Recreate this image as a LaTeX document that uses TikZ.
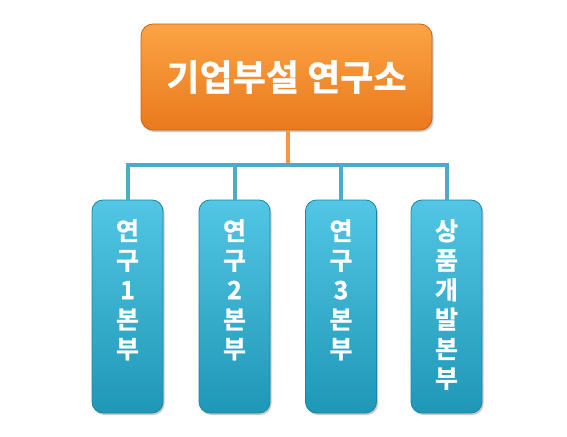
\documentclass[tikz,border=0pt]{standalone}
\usepackage{fontspec}
\newfontfamily\kr{Noto Sans CJK KR Bold}[FakeBold=1.2]
\usetikzlibrary{shadows}
\definecolor{orTop}{HTML}{FBA445}
\definecolor{orBot}{HTML}{E9791C}
\definecolor{orEdge}{HTML}{C8641A}
\definecolor{blTop}{HTML}{52C6E4}
\definecolor{blBot}{HTML}{1F97B6}
\definecolor{blEdge}{HTML}{1A86A3}
\definecolor{blLine}{HTML}{4BACC6}
\definecolor{orLine}{HTML}{F79646}
\tikzset{
  topbox/.style={rounded corners=12pt, top color=orTop, bottom color=orBot, draw=orEdge, line width=0.8pt,
    minimum width=291pt, minimum height=106pt, inner sep=0pt,
    drop shadow={shadow xshift=1.5pt, shadow yshift=-2pt, opacity=0.35, fill=black!60},
    text=white, font=\kr\fontsize{36}{40}\selectfont},
  subbox/.style={rounded corners=11pt, top color=blTop, bottom color=blBot, draw=blEdge, line width=0.8pt,
    minimum width=71pt, minimum height=213pt, inner sep=0pt,
    drop shadow={shadow xshift=1.5pt, shadow yshift=-2pt, opacity=0.35, fill=black!60}},
  lbl/.style={text=white, align=center, inner sep=0pt, font=\kr\fontsize{25}{29.5}\selectfont},
  bline/.style={draw=blLine, line width=4pt},
  oline/.style={draw=orLine, line width=4pt}
}
\begin{document}
\begin{tikzpicture}[x=1pt,y=-1pt]
\useasboundingbox (0,0) rectangle (567,436);
\node[topbox] (top) at (286.5,77) {기업부설 연구소};
\node[subbox] (b1) at (127.5,306.5) {};
\node[subbox] (b2) at (234.5,306.5) {};
\node[subbox] (b3) at (341,306.5) {};
\node[subbox] (b4) at (446.5,306.5) {};
\node[lbl, anchor=north] (t1) at (b1.center |- 0,219) {연\\구\\1\\본\\부};
\node[lbl, anchor=north] (t2) at (b2.center |- 0,219) {연\\구\\2\\본\\부};
\node[lbl, anchor=north] (t3) at (b3.center |- 0,219) {연\\구\\3\\본\\부};
\node[lbl, anchor=north] (t4) at (b4.center |- 0,219) {상\\품\\개\\발\\본\\부};
\coordinate (bar) at (288,165);
\draw[oline] (top.south -| bar) -- (bar);
\draw[bline] (b1.north) -- (b1.north |- bar) -- (b4.north |- bar) -- (b4.north);
\draw[bline] (b2.north) -- (b2.north |- bar);
\draw[bline] (b3.north) -- (b3.north |- bar);
\end{tikzpicture}
\end{document}
